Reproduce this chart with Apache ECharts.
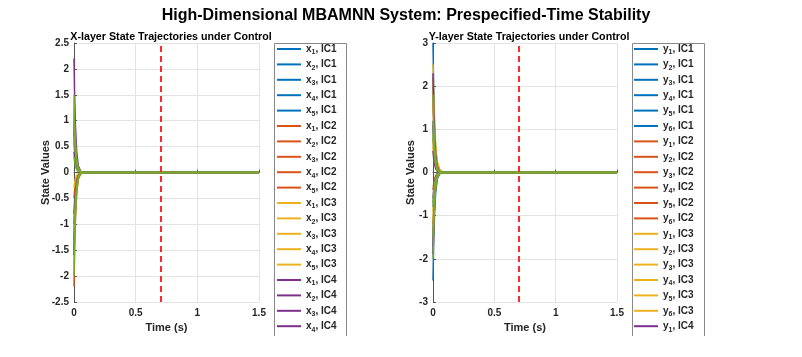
<!DOCTYPE html>
<html>
<head>
<meta charset="utf-8">
<script src="https://cdn.jsdelivr.net/npm/echarts@6/dist/echarts.min.js"></script>
<style>
  html, body { margin: 0; padding: 0; background: #fff; }
  #main { width: 802px; height: 357px; }
</style>
</head>
<body>
<div id="main"></div>
<script>
// time samples (s)
var t = [0, 0.005, 0.012, 0.022, 0.035, 0.055, 0.08, 1.5];

// X-layer trajectories, one block per initial condition, rows = x1..x5
var xIC1 = [
  [1.2, 0.82, 0.48, 0.22, 0.07, 0.01, 0, 0],
  [-0.8, -0.54, -0.32, -0.14, -0.05, -0.01, 0, 0],
  [0.6, 0.41, 0.24, 0.11, 0.04, 0.01, 0, 0],
  [-1.5, -1.02, -0.6, -0.27, -0.09, -0.02, 0, 0],
  [1.0, 0.68, 0.4, 0.18, 0.06, 0.01, 0, 0]
];
var xIC2 = [
  [-2.2, -1.5, -0.88, -0.4, -0.13, -0.02, 0, 0],
  [1.1, 0.75, 0.44, 0.2, 0.07, 0.01, 0, 0],
  [-0.5, -0.34, -0.2, -0.09, -0.03, -0.01, 0, 0],
  [0.9, 0.61, 0.36, 0.16, 0.05, 0.01, 0, 0],
  [-1.3, -0.88, -0.52, -0.23, -0.08, -0.01, 0, 0]
];
var xIC3 = [
  [0.7, 0.48, 0.28, 0.13, 0.04, 0.01, 0, 0],
  [1.4, 0.95, 0.56, 0.25, 0.08, 0.01, 0, 0],
  [-1.8, -1.22, -0.72, -0.32, -0.11, -0.02, 0, 0],
  [-0.3, -0.2, -0.12, -0.05, -0.02, 0, 0, 0],
  [1.3, 0.88, 0.52, 0.23, 0.08, 0.01, 0, 0]
];
var xIC4 = [
  [2.2, 1.5, 0.88, 0.4, 0.13, 0.02, 0, 0],
  [-1.0, -0.68, -0.4, -0.18, -0.06, -0.01, 0, 0],
  [0.4, 0.27, 0.16, 0.07, 0.02, 0, 0, 0],
  [-1.6, -1.09, -0.64, -0.29, -0.1, -0.02, 0, 0],
  [0.8, 0.54, 0.32, 0.14, 0.05, 0.01, 0, 0]
];
var xIC5 = [
  [1.5, 1.02, 0.6, 0.27, 0.09, 0.02, 0, 0],
  [-2.0, -1.36, -0.8, -0.36, -0.12, -0.02, 0, 0],
  [0.9, 0.61, 0.36, 0.16, 0.05, 0.01, 0, 0],
  [-1.2, -0.82, -0.48, -0.22, -0.07, -0.01, 0, 0],
  [0.3, 0.2, 0.12, 0.05, 0.02, 0, 0, 0]
];

// Y-layer trajectories, rows = y1..y6
var yIC1 = [
  [3.0, 2.04, 1.2, 0.54, 0.18, 0.03, 0, 0],
  [-2.5, -1.7, -1.0, -0.45, -0.15, -0.03, 0, 0],
  [1.2, 0.82, 0.48, 0.22, 0.07, 0.01, 0, 0],
  [-0.8, -0.54, -0.32, -0.14, -0.05, -0.01, 0, 0],
  [2.0, 1.36, 0.8, 0.36, 0.12, 0.02, 0, 0],
  [-1.5, -1.02, -0.6, -0.27, -0.09, -0.02, 0, 0]
];
var yIC2 = [
  [-1.9, -1.29, -0.76, -0.34, -0.11, -0.02, 0, 0],
  [1.6, 1.09, 0.64, 0.29, 0.1, 0.02, 0, 0],
  [0.8, 0.54, 0.32, 0.14, 0.05, 0.01, 0, 0],
  [-1.2, -0.82, -0.48, -0.22, -0.07, -0.01, 0, 0],
  [2.2, 1.5, 0.88, 0.4, 0.13, 0.02, 0, 0],
  [-0.4, -0.27, -0.16, -0.07, -0.02, 0, 0, 0]
];
var yIC3 = [
  [2.5, 1.8, 1.15, 0.6, 0.25, 0.07, 0.01, 0],
  [-1.4, -0.95, -0.56, -0.25, -0.08, -0.01, 0, 0],
  [1.9, 1.37, 0.87, 0.46, 0.19, 0.05, 0.01, 0],
  [-0.9, -0.61, -0.36, -0.16, -0.05, -0.01, 0, 0],
  [0.6, 0.41, 0.24, 0.11, 0.04, 0.01, 0, 0],
  [2.1, 1.51, 0.97, 0.5, 0.21, 0.06, 0.01, 0]
];
var yIC4 = [
  [-1.7, -1.16, -0.68, -0.31, -0.1, -0.02, 0, 0],
  [2.3, 1.56, 0.92, 0.41, 0.14, 0.02, 0, 0],
  [-0.6, -0.41, -0.24, -0.11, -0.04, -0.01, 0, 0],
  [1.1, 0.75, 0.44, 0.2, 0.07, 0.01, 0, 0],
  [-1.9, -1.29, -0.76, -0.34, -0.11, -0.02, 0, 0],
  [0.5, 0.34, 0.2, 0.09, 0.03, 0.01, 0, 0]
];
var yIC5 = [
  [1.8, 1.22, 0.72, 0.32, 0.11, 0.02, 0, 0],
  [-2.0, -1.36, -0.8, -0.36, -0.12, -0.02, 0, 0],
  [1.2, 0.82, 0.48, 0.22, 0.07, 0.01, 0, 0],
  [-1.5, -1.02, -0.6, -0.27, -0.09, -0.02, 0, 0],
  [0.9, 0.61, 0.36, 0.16, 0.05, 0.01, 0, 0],
  [-0.7, -0.48, -0.28, -0.13, -0.04, -0.01, 0, 0]
];

var icColors = ["#0072BD", "#D95319", "#EDB120", "#7E2F8E", "#77AC30"];
var tSettle = 0.7; // prespecified time (dashed line)
var legendCount = 19; // entries visible before the box is cut off

var font = "'Liberation Sans', Arial, Helvetica, sans-serif";
var ink = "#262626";

function buildSeries(prefix, blocks, axisIdx) {
  var out = [];
  var names = [];
  blocks.forEach(function (block, k) {
    block.forEach(function (row, j) {
      var name = prefix + (j + 1) + ", IC" + (k + 1);
      names.push(name);
      out.push({
        name: name,
        type: "line",
        xAxisIndex: axisIdx,
        yAxisIndex: axisIdx,
        showSymbol: false,
        symbol: "none",
        lineStyle: { width: 1.5, color: icColors[k] },
        itemStyle: { color: icColors[k] },
        data: t.map(function (tt, i) { return [tt, row[i]]; })
      });
    });
  });
  // dashed vertical marker at the prespecified time
  out[out.length - 1].markLine = {
    silent: true,
    symbol: ["none", "none"],
    label: { show: false },
    lineStyle: { color: "#ff2a2a", width: 2, type: [6, 4] },
    data: [{ xAxis: tSettle }]
  };
  return { series: out, names: names };
}

var X = buildSeries("x", [xIC1, xIC2, xIC3, xIC4, xIC5], 0);
var Y = buildSeries("y", [yIC1, yIC2, yIC3, yIC4, yIC5], 1);

function legendOpt(left, names) {
  return {
    orient: "vertical",
    left: left,
    top: 44,
    icon: "rect",
    itemWidth: 24,
    itemHeight: 2,
    itemGap: 3.4,
    padding: 0,
    data: names.slice(0, legendCount),
    formatter: function (n) {
      var m = n.match(/^([xy])(\d), (IC\d)$/);
      return "{b|" + m[1] + "}{s|" + m[2] + "}{b|, " + m[3] + "}";
    },
    textStyle: {
      rich: {
        b: { fontFamily: font, fontSize: 10, fontWeight: "bold", color: ink },
        s: { fontFamily: font, fontSize: 7, fontWeight: "bold", color: ink, lineHeight: 14, verticalAlign: "bottom" }
      }
    }
  };
}

function xAxisOpt(idx) {
  return {
    type: "value", gridIndex: idx, min: 0, max: 1.5, interval: 0.5,
    name: "Time (s)", nameLocation: "middle", nameGap: 20,
    nameTextStyle: { fontFamily: font, fontSize: 11, fontWeight: "bold", color: ink },
    axisLine: { lineStyle: { color: "#555", width: 1 } },
    axisTick: { inside: true, length: 3, lineStyle: { color: "#555" } },
    axisLabel: { fontFamily: font, fontSize: 10, fontWeight: "bold", color: ink, margin: 6 },
    splitLine: { lineStyle: { color: "#e3e3e3" } }
  };
}

function yAxisOpt(idx, min, max, step, gap) {
  return {
    type: "value", gridIndex: idx, min: min, max: max, interval: step,
    name: "State Values", nameLocation: "middle", nameGap: gap, nameRotate: 90,
    nameMoveOverlap: false,
    nameTextStyle: { fontFamily: font, fontSize: 11, fontWeight: "bold", color: ink },
    axisLine: { show: true, onZero: false, lineStyle: { color: "#555", width: 1 } },
    axisTick: { show: true, inside: true, length: 3, lineStyle: { color: "#555" } },
    axisLabel: { fontFamily: font, fontSize: 10, fontWeight: "bold", color: ink, margin: 5 },
    splitLine: { lineStyle: { color: "#e3e3e3" } }
  };
}

var chart = echarts.init(document.getElementById("main"));
chart.setOption({
  animation: false,
  backgroundColor: "#fff",
  title: [
    { text: "High-Dimensional MBAMNN System: Prespecified-Time Stability", left: 401, textAlign: "center", top: 3,
      textStyle: { fontFamily: font, fontSize: 16, fontWeight: "bold", color: "#000" } },
    { text: "X-layer State Trajectories under Control", left: 166, textAlign: "center", top: 27,
      textStyle: { fontFamily: font, fontSize: 10.7, fontWeight: "bold", color: "#000" } },
    { text: "Y-layer State Trajectories under Control", left: 524, textAlign: "center", top: 27,
      textStyle: { fontFamily: font, fontSize: 10.7, fontWeight: "bold", color: "#000" } }
  ],
  grid: [
    { left: 74, top: 43, width: 185, height: 259 },
    { left: 433, top: 43, width: 184, height: 259 }
  ],
  xAxis: [xAxisOpt(0), xAxisOpt(1)],
  yAxis: [yAxisOpt(0, -2.5, 2.5, 0.5, 23), yAxisOpt(1, -3, 3, 1, 17)],
  legend: [legendOpt(277, X.names), legendOpt(634, Y.names)],
  graphic: [
    { type: "polyline", silent: true, shape: { points: [[274.5, 336], [274.5, 43.5], [346.5, 43.5], [346.5, 336]] },
      style: { stroke: "#888", fill: null, lineWidth: 1 } },
    { type: "polyline", silent: true, shape: { points: [[632.5, 336], [632.5, 43.5], [704.5, 43.5], [704.5, 336]] },
      style: { stroke: "#888", fill: null, lineWidth: 1 } }
  ],
  series: X.series.concat(Y.series)
});
</script>
</body>
</html>
